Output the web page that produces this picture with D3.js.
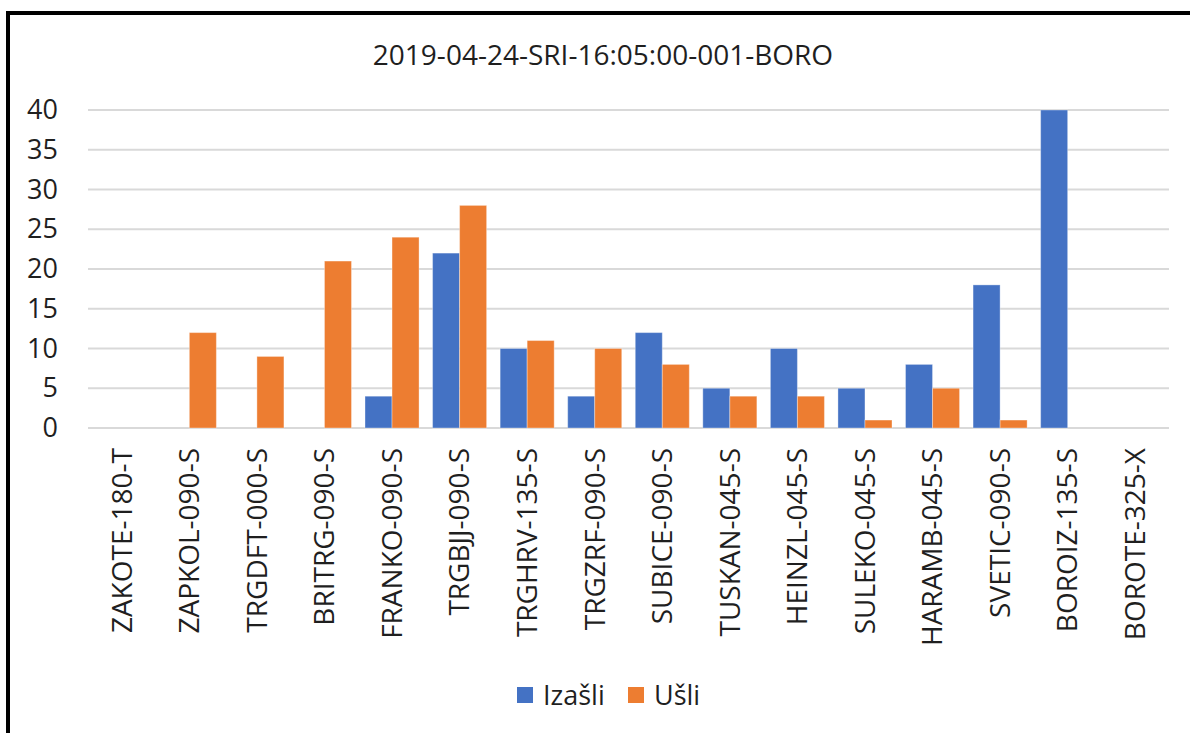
<!DOCTYPE html>
<html>
<head>
<meta charset="utf-8">
<script src="https://cdn.jsdelivr.net/npm/d3@7"></script>
<style>
  body { margin: 0; background: #fff; }
  text { font-family: "Open Sans", sans-serif; fill: #1f1f1f; }
</style>
</head>
<body>
<div id="chart"></div>
<script>
// data
var categories = ["ZAKOTE-180-T", "ZAPKOL-090-S", "TRGDFT-000-S", "BRITRG-090-S", "FRANKO-090-S",
  "TRGBJJ-090-S", "TRGHRV-135-S", "TRGZRF-090-S", "SUBICE-090-S", "TUSKAN-045-S", "HEINZL-045-S",
  "SULEKO-045-S", "HARAMB-045-S", "SVETIC-090-S", "BOROIZ-135-S", "BOROTE-325-X"];
var izasli = [0, 0, 0, 0, 4, 22, 10, 4, 12, 5, 10, 5, 8, 18, 40, 0];
var usli = [0, 12, 9, 21, 24, 28, 11, 10, 8, 4, 4, 1, 5, 1, 0, 0];
var seriesNames = ["Izašli", "Ušli"];
var yTicks = [0, 5, 10, 15, 20, 25, 30, 35, 40];
var title = "2019-04-24-SRI-16:05:00-001-BORO";

var colors = ["#4472C4", "#ED7D31"];

var svgWidth = 1190;
var svgHeight = 733;
var plot = { left: 88, right: 1169, top: 110, bottom: 428 };

var svg = d3.select("#chart")
  .append("svg")
  .attr("width", svgWidth)
  .attr("height", svgHeight);

svg.append("rect").attr("width", svgWidth).attr("height", svgHeight).attr("fill", "#fff");

// frame (only left and top edges are visible in the crop)
svg.append("path")
  .attr("d", "M8,733 L8,13 L1190,13")
  .attr("fill", "none")
  .attr("stroke", "#000")
  .attr("stroke-width", 4);

svg.append("text")
  .attr("x", 603)
  .attr("y", 65)
  .attr("text-anchor", "middle")
  .style("font-size", "28px")
  .text(title);

var x0 = d3.scaleBand().domain(categories).range([plot.left, plot.right]);
var bw = x0.bandwidth();
var x1 = d3.scaleBand().domain(seriesNames).range([bw * 0.1, bw * 0.9]);
var y = d3.scaleLinear().domain([0, 40]).range([plot.bottom, plot.top]);

// gridlines
svg.append("g").selectAll("line")
  .data(yTicks)
  .enter()
  .append("line")
  .attr("x1", plot.left)
  .attr("x2", plot.right)
  .attr("y1", d => y(d))
  .attr("y2", d => y(d))
  .attr("stroke", "#d9d9d9")
  .attr("stroke-width", 2);

// y axis labels
var leftAxis = d3.axisLeft(y).tickValues(yTicks).tickSize(0).tickPadding(0);
var yAxis = svg.append("g")
  .attr("transform", "translate(58,0)")
  .call(leftAxis);
yAxis.select(".domain").remove();
yAxis.selectAll("text")
  .style("font-size", "27px")
  .style("font-family", "Open Sans, sans-serif")
  .attr("fill", "#1f1f1f");

// bars
var rows = categories.map((c, i) => ({ cat: c, vals: [izasli[i], usli[i]] }));
var groups = svg.append("g").selectAll("g")
  .data(rows)
  .enter()
  .append("g")
  .attr("transform", d => `translate(${x0(d.cat)},0)`);

groups.selectAll("rect")
  .data(d => d.vals.map((v, k) => ({ name: seriesNames[k], v: v, k: k })))
  .enter()
  .filter(d => d.v > 0)
  .append("rect")
  .attr("x", d => x1(d.name))
  .attr("width", x1.bandwidth())
  .attr("y", d => y(d.v))
  .attr("height", d => y(0) - y(d.v))
  .attr("fill", d => colors[d.k])
  .attr("stroke", "#ffffff")
  .attr("stroke-opacity", 0.35)
  .attr("stroke-width", 1);

// x axis labels, rotated
var bottomAxis = d3.axisBottom(x0).tickSize(0).tickPadding(0);
var xAxis = svg.append("g")
  .attr("transform", `translate(0,${plot.bottom})`)
  .call(bottomAxis);
xAxis.select(".domain").remove();
xAxis.selectAll("text")
  .attr("transform", "rotate(-90)")
  .attr("x", -20)
  .attr("y", 0)
  .attr("dy", "0.35em")
  .attr("text-anchor", "end")
  .style("font-size", "28px")
  .style("font-family", "Open Sans, sans-serif")
  .attr("fill", "#1f1f1f");

// legend
var legendX = [517, 628];
var legend = svg.append("g").selectAll("g")
  .data(seriesNames)
  .enter()
  .append("g")
  .attr("transform", (d, i) => `translate(${legendX[i]},687)`);
legend.append("rect")
  .attr("width", 16)
  .attr("height", 16)
  .attr("fill", (d, i) => colors[i]);
legend.append("text")
  .attr("x", 26)
  .attr("y", 18)
  .style("font-size", "27px")
  .text(d => d);
</script>
</body>
</html>
